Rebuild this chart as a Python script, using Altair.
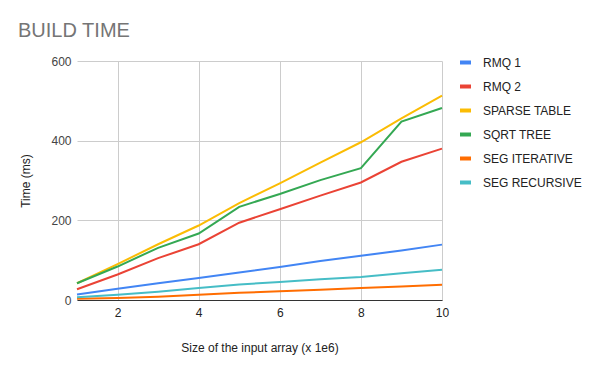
import altair as alt
import pandas as pd

sizes = [1, 2, 3, 4, 5, 6, 7, 8, 9, 10]
series_names = ["RMQ 1", "RMQ 2", "SPARSE TABLE", "SQRT TREE", "SEG ITERATIVE", "SEG RECURSIVE"]
rmq1 = [14, 28, 42, 55, 69, 83, 98, 111, 124, 139]
rmq2 = [27, 64, 105, 140, 194, 228, 262, 295, 347, 380]
sparse_table = [42, 90, 140, 187, 243, 293, 345, 396, 456, 513]
sqrt_tree = [42, 84, 131, 167, 234, 266, 301, 331, 448, 482]
seg_iterative = [3, 5, 8, 13, 18, 22, 26, 30, 34, 38]
seg_recursive = [7, 13, 21, 30, 39, 45, 52, 58, 67, 76]
colors = ["#4285F4", "#EA4335", "#FBBC04", "#34A853", "#FF6D01", "#46BDC6"]

all_values = [rmq1, rmq2, sparse_table, sqrt_tree, seg_iterative, seg_recursive]
rows = []
for name, vals in zip(series_names, all_values):
    for s, v in zip(sizes, vals):
        rows.append({"size": s, "time": v, "series": name})
df = pd.DataFrame(rows)

chart = alt.Chart(df).mark_line(strokeWidth=2).encode(
    x=alt.X("size:Q", scale=alt.Scale(domain=[1, 10], nice=False),
            axis=alt.Axis(title="Size of the input array (x 1e6)", values=[2, 4, 6, 8, 10],
                          grid=True, gridColor="#cccccc", domain=True, domainColor="#333333",
                          ticks=False, labelPadding=7, labelFontSize=12, labelColor="#222222",
                          labelFlush=False, labelOverlap=False,
                          labelFont="Liberation Sans", titleFont="Liberation Sans",
                          titleFontSize=12, titleFontWeight="normal", titleColor="#222222",
                          titlePadding=24)),
    y=alt.Y("time:Q", scale=alt.Scale(domain=[0, 600], nice=False),
            axis=alt.Axis(title="Time (ms)", values=[0, 200, 400, 600], grid=True,
                          gridColor="#cccccc", domain=False, ticks=False, labelPadding=6,
                          labelFontSize=12, labelColor="#444444", labelFont="Liberation Sans",
                          titleFont="Liberation Sans", titleFontSize=12,
                          titleFontWeight="normal", titleColor="#222222", titlePadding=18)),
    color=alt.Color("series:N", scale=alt.Scale(domain=series_names, range=colors),
                    legend=alt.Legend(title=None, orient="none", legendX=381, legendY=-6,
                                      symbolType="stroke", symbolStrokeWidth=4,
                                      symbolSize=121, labelFontSize=12,
                                      labelFont="Liberation Sans", labelColor="#222222",
                                      rowPadding=7, labelOffset=10)),
).properties(
    width=365,
    height=239,
    title=alt.TitleParams("BUILD TIME", anchor="start", frame="group", fontSize=20,
                          font="Liberation Sans", fontWeight="normal", color="#757575",
                          dx=-59, offset=14),
    autosize=alt.AutoSizeParams(type="none"),
    padding={"left": 69, "top": 53, "right": 140, "bottom": 55},
).configure_view(stroke=None)

chart.save("out.html", embed_options={"renderer": "svg", "actions": False})
